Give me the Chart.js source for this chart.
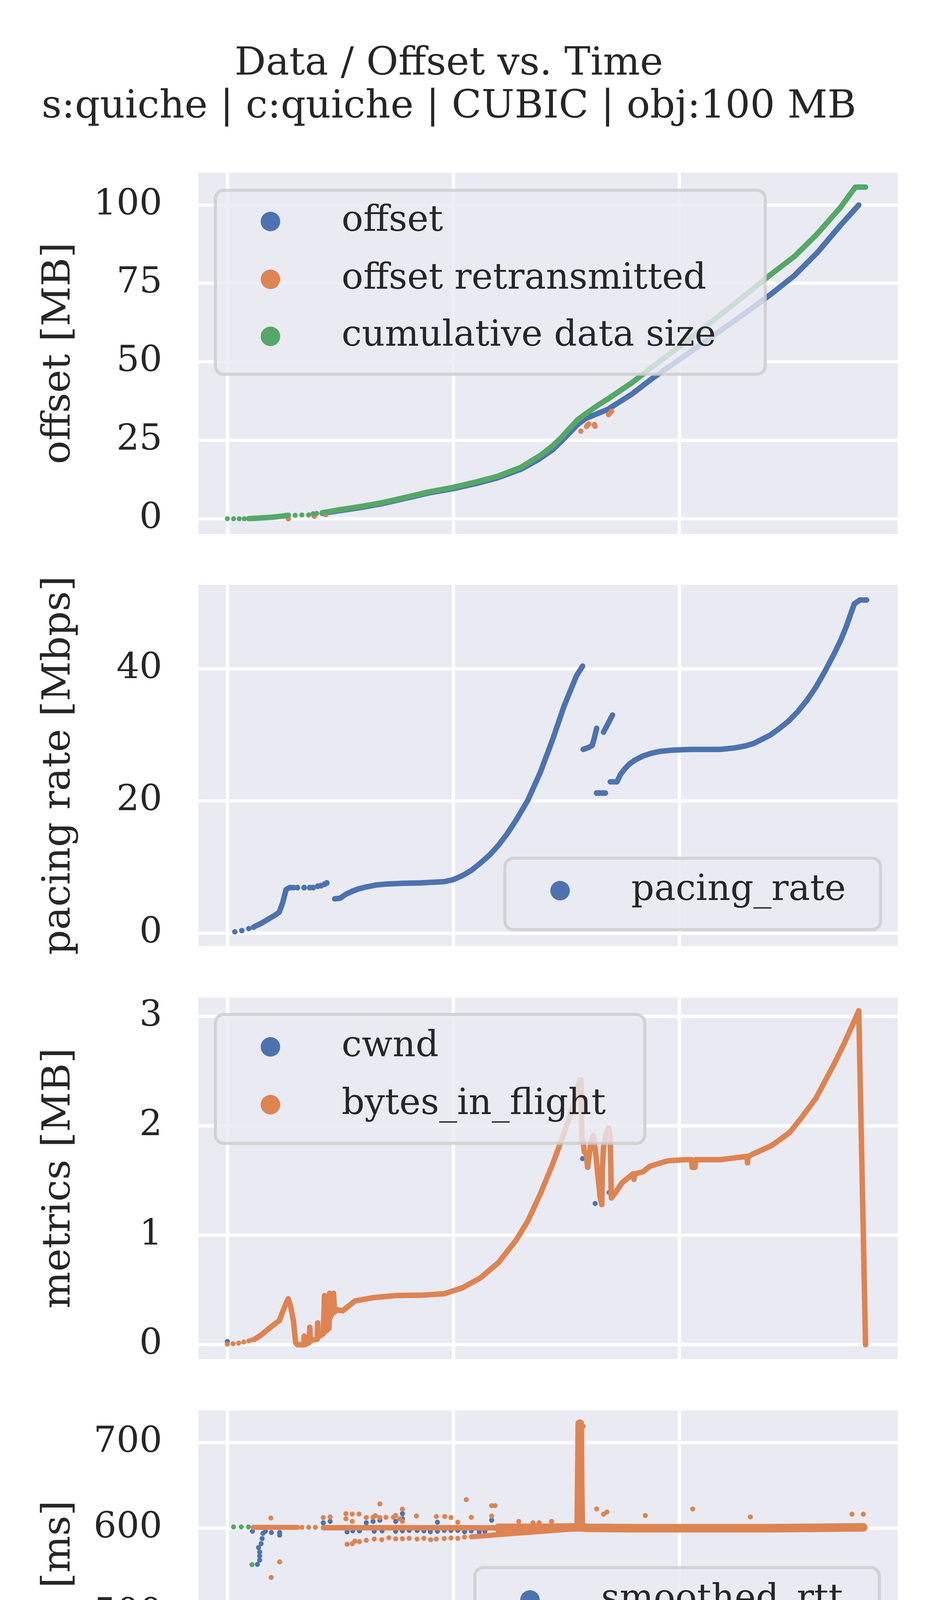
<!DOCTYPE html>
<html><head><meta charset="utf-8">
<script src="https://cdn.jsdelivr.net/npm/chart.js@4.4.1/dist/chart.umd.min.js"></script>
<style>
html,body{margin:0;padding:0;background:#ffffff;}
body{width:2400px;height:6000px;position:relative;overflow:hidden;}
canvas{position:absolute;left:0;}
</style></head><body>
<canvas id="c1"></canvas><canvas id="c2"></canvas><canvas id="c3"></canvas><canvas id="c4"></canvas><canvas id="c5"></canvas>
<script>
// ---------------- text ----------------
const figTitle = ['Data / Offset vs. Time', 's:quiche | c:quiche | CUBIC | obj:100 MB'];
const xLabel = 'Time [s]';
const yLabels = ['offset [MB]', 'pacing rate [Mbps]', 'metrics [MB]', 'RTT [ms]', 'data rate [Mbps]'];
const xTicks = [0, 20, 40];
const yTicks1 = [0, 25, 50, 75, 100];
const yTicks2 = [0, 20, 40];
const yTicks3 = [0, 1, 2, 3];
const yTicks4 = [400, 500, 600, 700];
const yTicks5 = [0, 10, 20, 30];
const names1 = ['offset', 'offset retransmitted', 'cumulative data size'];
const names2 = ['pacing_rate'];
const names3 = ['cwnd', 'bytes_in_flight'];
const names4 = ['smoothed_rtt', 'latest_rtt', 'min_rtt'];
const names5 = ['throughput', 'goodput'];

// ---------------- panel 1: offset ----------------
const offsetT = [8.4, 10, 12, 13.7, 16, 17.8, 20, 22, 23.9, 26, 27.6, 28.8, 29.6, 30.3, 31.0, 31.7, 33.7, 35.8, 37.8, 39.9, 41.9, 44.0, 46.1, 48.1, 50.2, 52.2, 54.3, 55.9];
const offsetV = [1.7, 2.6, 3.7, 4.8, 6.7, 8.2, 9.6, 11.2, 13.0, 15.8, 19.0, 22.0, 24.8, 27.4, 30.0, 31.9, 34.9, 39.7, 45.2, 50.4, 55.5, 60.8, 66.2, 71.5, 77.5, 84.7, 93.6, 100.0];
const retxT = [5.4, 7.7, 8.7, 31.3, 31.8, 31.9, 32.0, 32.5, 32.55, 33.75, 33.85, 34.0];
const retxV = [0.0, 0.8, 1.3, 27.9, 29.4, 29.9, 30.2, 30.0, 29.5, 33.2, 33.6, 34.2];
const cumDotT = [0, 0.55, 1.05, 1.5, 6.0, 6.6, 7.2, 7.6, 7.9];
const cumDotV = [0, 0, 0, 0, 1.1, 1.2, 1.2, 1.6, 1.7];
const cumAT = [1.9, 2.5, 3.2, 4.0, 4.8, 5.4];
const cumAV = [0.05, 0.15, 0.3, 0.5, 0.8, 1.1];
const cumBT = [8.4, 10, 12, 13.7, 16, 17.8, 20, 22, 23.9, 26, 27.8, 28.8, 29.6, 30.3, 31.0, 31.7, 32.9, 33.7, 35.8, 37.8, 39.9, 41.9, 44.0, 46.1, 48.1, 50.2, 52.2, 54.3, 55.6, 56.5];
const cumBV = [1.9, 2.9, 4.0, 5.1, 7.0, 8.5, 10.0, 11.7, 13.5, 16.4, 20.4, 23.2, 26.0, 28.8, 31.5, 33.4, 36.4, 38.2, 43.3, 48.9, 54.5, 60.1, 66.0, 72.0, 77.8, 83.6, 90.7, 99.3, 105.7, 105.7];

// ---------------- panel 2: pacing rate ----------------
const paceDot1T = [0.66, 1.28, 1.9, 2.3];
const paceDot1V = [0.2, 0.4, 0.7, 0.9];
const paceAT = [2.4, 3.0, 3.6, 4.2, 4.6, 4.9, 5.2, 5.5, 5.9];
const paceAV = [1.0, 1.5, 2.1, 2.7, 3.2, 4.6, 6.6, 6.9, 6.9];
const paceDot2T = [6.2, 6.8, 7.3, 7.6, 8.0, 8.3, 8.6, 8.8, 32.7, 32.95, 33.2, 33.45];
const paceDot2V = [6.9, 6.9, 6.9, 6.9, 7.1, 7.2, 7.4, 7.6, 21.2, 21.2, 21.2, 21.2];
const paceBT = [9.5, 10.0, 10.5, 11.0, 11.6, 12.3, 13.2, 14.2, 15.5, 17.1, 19.2, 20.0, 20.8, 21.6, 22.4, 23.2, 24.0, 24.8, 25.6, 26.6, 27.7, 28.8, 29.8, 30.9, 31.45];
const paceBV = [5.2, 5.3, 5.9, 6.3, 6.7, 7.0, 7.3, 7.45, 7.55, 7.6, 7.8, 8.1, 8.7, 9.5, 10.6, 11.8, 13.3, 15.1, 17.2, 20.1, 24.3, 29.3, 34.3, 38.9, 40.4];
const paceCT = [31.5, 32.0, 32.3, 32.5, 32.7];
const paceCV = [27.8, 28.1, 28.4, 29.6, 31.0];
const paceDT = [33.3, 33.7, 34.1];
const paceDV = [30.4, 31.7, 33.0];
const paceET = [33.9, 34.5, 34.8, 35.2, 35.6, 36.1, 36.8, 37.5, 38.3, 39.5, 41.0, 42.5, 43.6, 44.8, 45.8, 46.6, 47.3, 48.1, 48.9, 49.7, 50.5, 51.3, 52.1, 52.9, 53.7, 54.3, 54.8, 55.5, 56.0, 56.6];
const paceEV = [22.9, 22.9, 24.0, 24.9, 25.6, 26.2, 26.8, 27.2, 27.5, 27.7, 27.8, 27.8, 27.8, 28.0, 28.3, 28.7, 29.3, 30.0, 31.0, 32.1, 33.5, 35.2, 37.2, 39.6, 42.2, 44.3, 46.4, 49.8, 50.4, 50.4];

// ---------------- panel 3: cwnd / bytes in flight ----------------
const cwndT = [0, 31.45, 32.56, 33.8];
const cwndV = [0.03, 1.70, 1.29, 1.39];
const bifDotT = [0, 0.5, 1.0, 1.45, 1.9, 2.2, 33.93, 33.93, 33.93, 33.93, 33.93, 33.93, 33.93, 33.93, 33.93];
const bifDotV = [0.005, 0.01, 0.015, 0.025, 0.035, 0.045, 1.86, 1.80, 1.74, 1.68, 1.62, 1.56, 1.50, 1.44, 1.38];
const bifT = [2.4, 3.0, 3.6, 4.2, 4.6, 4.9, 5.2, 5.4, 5.6, 5.85, 6.05, 6.2, 6.5, 6.75, 6.8, 6.85, 7.25, 7.3, 7.35, 7.95, 8.0, 8.05, 8.5, 8.6, 8.65, 9.0, 9.05, 9.1, 9.35, 9.4, 9.5, 9.7, 10.2, 11.3, 12.9, 14.96, 17.1, 19.2, 20.8, 22.4, 24.0, 25.6, 26.6, 27.7, 28.8, 29.8, 30.6, 31.2, 31.3, 31.4, 31.5, 31.6, 31.75, 31.9, 32.0, 32.2, 32.4, 32.6, 32.8, 33.0, 33.15, 33.2, 33.3, 33.5, 33.75, 33.9, 33.95, 34.0, 34.3, 34.95, 35.9, 36.0, 36.05, 36.8, 37.4, 39.0, 40.5, 41.1, 41.15, 41.4, 41.45, 42.1, 43.6, 45.15, 46.0, 46.05, 46.1, 46.7, 48.2, 49.8, 50.8, 52.1, 53.7, 54.6, 55.3, 55.9, 56.5];
const bifV = [0.05, 0.09, 0.14, 0.19, 0.22, 0.30, 0.38, 0.42, 0.35, 0.22, 0.02, 0.0, 0.0, 0.0, 0.08, 0.0, 0.02, 0.16, 0.04, 0.05, 0.20, 0.07, 0.10, 0.45, 0.12, 0.15, 0.47, 0.25, 0.30, 0.47, 0.30, 0.32, 0.31, 0.40, 0.43, 0.45, 0.452, 0.466, 0.52, 0.61, 0.75, 0.96, 1.13, 1.375, 1.65, 1.93, 2.18, 2.42, 2.42, 1.86, 1.87, 1.76, 1.75, 1.62, 1.70, 1.86, 1.91, 1.76, 1.55, 1.35, 1.28, 1.60, 1.80, 1.92, 1.98, 1.90, 1.60, 1.34, 1.38, 1.48, 1.56, 1.51, 1.56, 1.58, 1.63, 1.68, 1.69, 1.69, 1.62, 1.62, 1.69, 1.69, 1.69, 1.71, 1.72, 1.66, 1.72, 1.75, 1.82, 1.94, 2.07, 2.25, 2.56, 2.75, 2.91, 3.05, 0.0];

// ---------------- panel 4: RTT ----------------
const srttDotT = [0, 2.22, 2.66, 2.76, 2.86, 2.86, 2.86, 2.99, 3.08, 3.15, 3.37, 3.9, 4.63, 4.63, 8.49, 9.1, 12.3, 12.9, 13.5, 14.9, 15.5, 15.5, 18.6, 23.4, 10.6, 11.1, 11.7, 13.0, 13.7, 14.9, 15.5, 16.1, 16.8, 17.4, 17.97, 18.6, 19.2, 19.8, 20.4, 21.0, 21.6, 22.3, 22.8, 24.0];
const srttDotV = [332.5, 596.5, 557.8, 577.5, 562.8, 567.6, 572.2, 582, 588, 594, 596.5, 595, 592, 595, 606.4, 608, 606.4, 608, 609.4, 608, 617, 611, 607, 609.4, 595.7, 597, 597, 596.5, 597, 596.5, 597, 597.5, 597.5, 597, 596, 596.5, 597.5, 597.5, 597.5, 596, 597, 595.7, 596.5, 597];
const srttSpikeT = [31.15, 31.2, 31.25];
const srttSpikeV = [600, 702, 610];
const lrttDotT = [6.6, 7.2, 7.8, 3.85, 3.88, 4.63, 8.49, 9.1, 10.5, 10.5, 11.06, 11.06, 11.66, 12.3, 12.9, 13.1, 13.5, 13.5, 14.04, 14.7, 14.9, 15.25, 15.5, 15.5, 16.74, 18.5, 19.25, 19.8, 20.4, 21.15, 21.6, 23.4, 23.7, 23.4, 25.8, 27.06, 27.6, 28.7, 31.5, 32.7, 33.3, 33.6, 37.0, 41.2, 46.3, 55.3, 56.3,
  10.6, 11.06, 11.3, 11.7, 12.3, 13.0, 13.67, 14.3, 14.9, 15.5, 16.1, 16.8, 17.4, 18.0, 18.5, 19.2, 19.8, 20.4, 21.0];
const lrttDotV = [601, 601, 601, 612, 542.6, 560.8, 612.5, 613.2, 617, 611, 616.6, 608, 616.6, 612.5, 612.8, 614.7, 628.4, 612.5, 612.8, 612.8, 615, 611, 622.3, 608, 614.3, 613.7, 613.7, 612.5, 607, 633.4, 612.8, 626.4, 626.4, 614.3, 608, 606.4, 606.4, 608, 719, 622.5, 616.4, 619, 614.8, 622.5, 613.3, 616.4, 616.4,
  581.3, 582, 585, 584.4, 585.9, 587.4, 586.6, 588.9, 587.7, 587.7, 588.2, 587.4, 588.2, 586.6, 587.4, 588, 588.6, 588.2, 589.7];
const lrttAT = [2.3, 4.0, 5.5, 6.2];
const lrttAV = [601, 601, 601, 601];
const lrttBT = [8.5, 12, 16, 20, 24, 25];
const lrttBV = [600.6, 600.6, 600.6, 600.6, 600.5, 600.5];
const lrttCT = [24, 28, 31.1, 31.2, 31.25, 31.3, 32, 36, 40, 44, 48, 52, 56.3];
const lrttCV = [600.5, 600.5, 601, 722, 640, 601, 600.5, 600, 600, 600, 600, 600.5, 601];
const lrttLowT = [21.6, 23, 25, 27, 29, 31];
const lrttLowV = [590, 591.5, 593.5, 595.5, 597.5, 599.5];
const minrttT = [0.55, 1.23, 1.87, 2.18, 2.78];
const minrttV = [601.5, 601.5, 601.5, 557.5, 416.9];

// ---------------- panel 5: data rate ----------------
const thrT = [0, 0.7, 1.3, 1.9, 2.3, 2.7, 2.75, 3.1, 3.6, 4.0, 4.3, 4.7, 5.1, 5.4, 6.0, 6.6, 6.7, 7.3, 7.35, 7.9, 8.3, 8.6, 8.9, 9.25, 9.6, 9.95, 10.5, 11.1, 11.7, 12.3, 12.9, 13.5, 14.1, 14.7, 15.3, 15.9, 16.5, 17.1, 17.7, 18.3, 18.9, 19.5, 20.1, 20.7, 21.3, 21.9, 22.5, 23.1, 23.7, 24.3, 24.9, 25.5, 26.1, 26.7, 27.3, 27.8, 28.3, 28.7, 29.1, 29.6, 30.05, 30.5, 30.8, 31.1, 31.2, 31.6, 31.9, 32.4, 33.0, 33.4, 33.9, 34.5, 35.1, 35.7, 36.3, 36.9, 37.5, 38.1, 38.7, 39.3, 39.9, 40.5, 41.1, 41.7, 42.3, 42.9, 43.5, 44.1, 44.7, 45.3, 45.9, 46.5, 47.1, 47.7, 48.3, 48.9, 49.5, 50.1, 50.7, 51.3, 51.9, 52.5, 53.0, 53.4, 53.7, 54.1];
const thrV = [0.28, 0.14, 0.43, 0.63, 1.2, 1.5, 2.3, 3.2, 2.8, 2.5, 2.2, 1.6, 0.9, 0.5, 0.6, 1.2, 2.8, 2.6, 3.6, 4.0, 3.7, 4.6, 3.9, 5.0, 4.8, 5.4, 5.5, 6.0, 5.6, 6.2, 5.7, 6.3, 5.7, 6.3, 5.7, 6.4, 5.8, 6.5, 5.9, 6.9, 6.5, 7.3, 7.1, 7.9, 8.2, 9.0, 9.7, 10.6, 11.8, 12.9, 14.3, 15.6, 17.5, 19.3, 21.4, 23.6, 25.6, 26.6, 28.3, 27.1, 26.1, 25.0, 23.2, 24.3, 22.0, 21.8, 21.5, 19.8, 20.6, 18.6, 20.4, 21.3, 22.0, 22.4, 22.3, 22.9, 22.5, 23.0, 22.6, 23.0, 22.6, 23.0, 22.6, 23.1, 22.7, 23.2, 22.8, 23.5, 23.1, 23.9, 23.6, 24.5, 24.4, 25.6, 25.7, 27.1, 27.6, 29.1, 29.9, 31.5, 32.8, 34.7, 36.3, 37.9, 36.3, 28.2];
const gpT = [0.7, 1.3, 1.9, 2.3, 2.7, 2.75, 3.1, 3.6, 4.0, 4.3, 4.7, 5.1, 5.4, 6.0, 6.6, 6.7, 7.3, 7.9, 8.6, 9.25, 9.5, 9.95, 10.5, 11.1, 11.7, 12.3, 12.9, 13.5, 14.1, 14.7, 15.3, 15.9, 16.5, 17.1, 17.7, 18.3, 18.9, 19.5, 20.1, 20.7, 21.3, 21.9, 22.5, 23.1, 23.7, 24.3, 24.9, 25.5, 26.1, 26.7, 27.3, 27.8, 28.3, 28.7, 29.1, 29.6, 30.05, 30.5, 30.8, 31.1, 31.2, 31.6, 31.9, 32.4, 33.0, 33.4, 33.9, 34.5, 35.1, 35.7, 36.3, 36.9, 37.5, 38.1, 38.7, 39.3, 39.9, 40.5, 41.1, 41.7, 42.3, 42.9, 43.5, 44.1, 44.7, 45.3, 45.9, 46.5, 47.1, 47.7, 48.3, 48.9, 49.5, 50.1, 50.7, 51.3, 51.9, 52.5, 53.0, 53.4];
const gpV = [0.1, 0.35, 0.55, 1.0, 1.3, 2.0, 3.0, 2.6, 2.3, 2.0, 1.4, 0.7, 0.3, 0.3, 1.0, 1.6, 2.9, 3.0, 3.0, 3.2, 4.4, 4.9, 5.2, 5.5, 5.2, 5.8, 5.3, 5.9, 5.3, 5.9, 5.3, 6.0, 5.4, 6.1, 5.6, 6.5, 6.1, 6.9, 6.7, 7.5, 7.9, 8.6, 9.3, 10.2, 11.3, 12.4, 13.7, 15.0, 16.8, 18.6, 20.6, 22.5, 24.5, 25.6, 27.4, 25.6, 24.7, 22.5, 20.7, 21.5, 19.6, 19.2, 18.9, 18.5, 18.9, 17.4, 18.2, 19.6, 20.3, 20.9, 20.3, 21.5, 20.5, 21.6, 20.6, 21.7, 20.7, 21.7, 20.8, 21.8, 20.9, 21.9, 21.0, 22.2, 21.4, 22.6, 22.1, 23.2, 23.0, 24.2, 24.6, 25.9, 26.6, 28.0, 29.0, 30.6, 32.0, 33.9, 35.4, 36.5];

// ---------------- styling / layout ----------------
const BG = '#EAEAF2', GRID = '#FFFFFF', TXT = '#262626';
const BLUE = '#4C72B0', ORANGE = '#DD8452', GREEN = '#55A868';
const FONT = "'DejaVu Serif', 'Liberation Serif', serif";
Chart.defaults.font.family = FONT;
Chart.defaults.color = TXT;
const X_MIN = -2.55, X_MAX = 59.35;
const PAD = 160;
const LW = 14;

const zip = (ts, vs) => ts.map((t, i) => ({x: t, y: vs[i]}));
const lineDS = (label, ts, vs, color, w, order, extra) => Object.assign({
  label, data: zip(ts, vs), showLine: true, borderColor: color, backgroundColor: color,
  borderWidth: w, pointRadius: 0, fill: false, tension: 0, order,
  borderCapStyle: 'round', borderJoinStyle: 'round'
}, extra || {});
const dotDS = (label, ts, vs, color, r, order) => ({
  label, data: zip(ts, vs), showLine: false, backgroundColor: color, borderColor: color,
  borderWidth: 0, pointRadius: r, order
});

const LEGENDS = {};

const bgPlugin = {
  id: 'bgfill',
  beforeDraw(chart) {
    const a = chart.chartArea, ctx = chart.ctx;
    ctx.save(); ctx.fillStyle = BG;
    ctx.fillRect(a.left, a.top, a.right - a.left, a.bottom - a.top);
    ctx.restore();
  }
};

function rrect(ctx, x, y, w, h, r) {
  ctx.beginPath();
  ctx.moveTo(x + r, y); ctx.lineTo(x + w - r, y); ctx.arcTo(x + w, y, x + w, y + r, r);
  ctx.lineTo(x + w, y + h - r); ctx.arcTo(x + w, y + h, x + w - r, y + h, r);
  ctx.lineTo(x + r, y + h); ctx.arcTo(x, y + h, x, y + h - r, r);
  ctx.lineTo(x, y + r); ctx.arcTo(x, y, x + r, y, r); ctx.closePath();
}

const legendPlugin = {
  id: 'boxLegend',
  afterDatasetsDraw(chart) {
    const L = LEGENDS[chart.canvas.id];
    if (!L) return;
    const ctx = chart.ctx, top = L.canvasTop;
    ctx.save();
    const [x0, y0, x1, y1] = L.box;
    rrect(ctx, x0, y0 - top, x1 - x0, y1 - y0, 22);
    ctx.fillStyle = 'rgba(234,234,242,0.8)'; ctx.fill();
    ctx.lineWidth = 8; ctx.strokeStyle = 'rgba(204,204,204,0.8)'; ctx.stroke();
    L.items.forEach(it => {
      const yy = it.y - top;
      if (it.line) {
        ctx.save();
        ctx.strokeStyle = it.color; ctx.lineWidth = 12.6;
        ctx.lineCap = it.dash ? 'butt' : 'round';
        ctx.setLineDash(it.dash || []);
        ctx.beginPath(); ctx.moveTo(L.lineX0, yy); ctx.lineTo(L.lineX1, yy); ctx.stroke();
        ctx.restore();
      }
      if (it.marker) {
        ctx.beginPath(); ctx.arc(L.markerX, yy, it.marker, 0, Math.PI * 2);
        ctx.fillStyle = it.color; ctx.fill();
      }
      ctx.fillStyle = TXT; ctx.font = '92px ' + FONT;
      ctx.textBaseline = 'middle'; ctx.textAlign = 'left';
      ctx.fillText(it.label, L.textX, yy);
    });
    ctx.restore();
  }
};

function makeChart(id, cfg) {
  const cv = document.getElementById(id);
  cv.width = 2400; cv.height = cfg.height;
  cv.style.top = cfg.top + 'px'; cv.style.width = '2400px'; cv.style.height = cfg.height + 'px';
  const gridOpt = {color: GRID, lineWidth: 8.3, drawTicks: false};
  return new Chart(cv, {
    type: 'scatter',
    data: {datasets: cfg.datasets},
    options: {
      responsive: false, animation: false, devicePixelRatio: 1,
      events: [],
      layout: {padding: {left: 0, right: 103, top: cfg.padTop, bottom: cfg.padBottom}},
      plugins: {
        legend: {display: false}, tooltip: {enabled: false},
        title: cfg.title || {display: false}
      },
      scales: {
        x: {
          type: 'linear', min: X_MIN, max: X_MAX,
          grid: gridOpt, border: {display: false},
          ticks: {display: !!cfg.showX, font: {size: 92}, padding: 66, color: TXT},
          afterBuildTicks: s => { s.ticks = xTicks.map(v => ({value: v})); },
          afterFit: s => { s.height = cfg.showX ? 312 : 0; },
          title: {display: !!cfg.showX, text: xLabel, font: {size: 100}, padding: {top: 0, bottom: 0}, color: TXT}
        },
        y: {
          type: 'linear', min: cfg.ymin, max: cfg.ymax,
          grid: gridOpt, border: {display: false},
          ticks: {font: {size: 92}, padding: 93, color: TXT},
          afterBuildTicks: s => { s.ticks = cfg.yticks.map(v => ({value: v})); },
          afterFit: s => { s.width = 508; },
          title: {display: true, text: cfg.ylabel, font: {size: 100}, padding: {top: 92, bottom: 0}, color: TXT}
        }
      }
    },
    plugins: [bgPlugin, legendPlugin]
  });
}

// ---- panel 1
const top1 = 0;
LEGENDS.c1 = {canvasTop: top1, box: [551, 487, 1958, 958], markerX: 692, textX: 874,
  items: [{label: names1[0], color: BLUE, y: 567, marker: 25}, {label: names1[1], color: ORANGE, y: 715, marker: 25}, {label: names1[2], color: GREEN, y: 861, marker: 25}]};
makeChart('c1', {
  top: top1, height: 1367 + PAD, padTop: 0, padBottom: PAD,
  title: {display: true, text: figTitle, font: {size: 100, weight: 'normal', lineHeight: 1.1}, color: TXT, padding: {top: 110, bottom: 112}},
  ymin: -4.86, ymax: 110.3, yticks: yTicks1, ylabel: yLabels[0],
  datasets: [
    lineDS(names1[0], offsetT, offsetV, BLUE, LW, 3),
    dotDS(names1[1], retxT, retxV, ORANGE, 7, 2),
    dotDS(names1[2], cumDotT, cumDotV, GREEN, 6.5, 1),
    lineDS(names1[2], cumAT, cumAV, GREEN, LW, 1),
    lineDS(names1[2], cumBT, cumBV, GREEN, LW, 1)
  ]
});

// ---- panel 2
const top2 = 1497 - PAD;
LEGENDS.c2 = {canvasTop: top2, box: [1292, 2197, 2253, 2380], markerX: 1433, textX: 1615,
  items: [{label: names2[0], color: BLUE, y: 2280, marker: 25}]};
makeChart('c2', {
  top: top2, height: 925 + 2 * PAD, padTop: PAD, padBottom: PAD,
  ymin: -1.95, ymax: 52.7, yticks: yTicks2, ylabel: yLabels[1],
  datasets: [
    dotDS(names2[0], paceDot1T, paceDot1V, BLUE, 7, 1),
    lineDS(names2[0], paceAT, paceAV, BLUE, LW, 1),
    dotDS(names2[0], paceDot2T, paceDot2V, BLUE, 7.5, 1),
    lineDS(names2[0], paceBT, paceBV, BLUE, LW, 1),
    lineDS(names2[0], paceCT, paceCV, BLUE, LW, 1),
    lineDS(names2[0], paceDT, paceDV, BLUE, LW, 1),
    lineDS(names2[0], paceET, paceEV, BLUE, LW, 1)
  ]
});

// ---- panel 3
const top3 = 2554 - PAD;
LEGENDS.c3 = {canvasTop: top3, box: [551, 2597, 1650, 2927], markerX: 692, textX: 874,
  items: [{label: names3[0], color: BLUE, y: 2680, marker: 25}, {label: names3[1], color: ORANGE, y: 2828, marker: 25}]};
makeChart('c3', {
  top: top3, height: 925 + 2 * PAD, padTop: PAD, padBottom: PAD,
  ymin: -0.13, ymax: 3.17, yticks: yTicks3, ylabel: yLabels[2],
  datasets: [
    dotDS(names3[0], cwndT, cwndV, BLUE, 6.5, 3),
    dotDS(names3[1], bifDotT, bifDotV, ORANGE, 6.5, 2),
    lineDS(names3[1], bifT, bifV, ORANGE, LW, 2)
  ]
});

// ---- panel 4
const top4 = 3611 - PAD;
LEGENDS.c4 = {canvasTop: top4, box: [1215, 4013, 2250, 4492], markerX: 1356, textX: 1538,
  items: [{label: names4[0], color: BLUE, y: 4096, marker: 25}, {label: names4[1], color: ORANGE, y: 4245, marker: 25}, {label: names4[2], color: GREEN, y: 4393, marker: 25}]};
makeChart('c4', {
  top: top4, height: 925 + 2 * PAD, padTop: PAD, padBottom: PAD,
  ymin: 315.6, ymax: 737.4, yticks: yTicks4, ylabel: yLabels[3],
  datasets: [
    dotDS(names4[0], srttDotT, srttDotV, BLUE, 6.5, 3),
    lineDS(names4[0], srttSpikeT, srttSpikeV, BLUE, 8, 3),
    dotDS(names4[1], lrttDotT, lrttDotV, ORANGE, 6.5, 2),
    lineDS(names4[1], lrttAT, lrttAV, ORANGE, 13, 2),
    lineDS(names4[1], lrttBT, lrttBV, ORANGE, 14, 2),
    lineDS(names4[1], lrttCT, lrttCV, ORANGE, 22, 2),
    lineDS(names4[1], lrttLowT, lrttLowV, ORANGE, 13, 2),
    dotDS(names4[2], minrttT, minrttV, GREEN, 6.5, 1)
  ]
});

// ---- panel 5
const top5 = 4667 - PAD;
LEGENDS.c5 = {canvasTop: top5, box: [1315, 5219, 2250, 5546], markerX: 1451, textX: 1638, lineX0: 1350, lineX1: 1552,
  items: [{label: names5[0], color: BLUE, y: 5300, marker: 45, line: true}, {label: names5[1], color: ORANGE, y: 5447, line: true, dash: [81, 20, 12.6, 20]}]};
makeChart('c5', {
  top: top5, height: 6000 - top5, padTop: PAD, padBottom: 6000 - top5 - PAD - 927 - 312, showX: true,
  ymin: -1.7, ymax: 39.7, yticks: yTicks5, ylabel: yLabels[4],
  datasets: [
    lineDS(names5[0], thrT, thrV, BLUE, 14, 2, {pointRadius: 11, pointBackgroundColor: BLUE, pointBorderWidth: 0}),
    lineDS(names5[1], gpT, gpV, ORANGE, 14, 1, {borderDash: [81, 20, 12.6, 20], borderCapStyle: 'butt'})
  ]
});
</script>
</body></html>
